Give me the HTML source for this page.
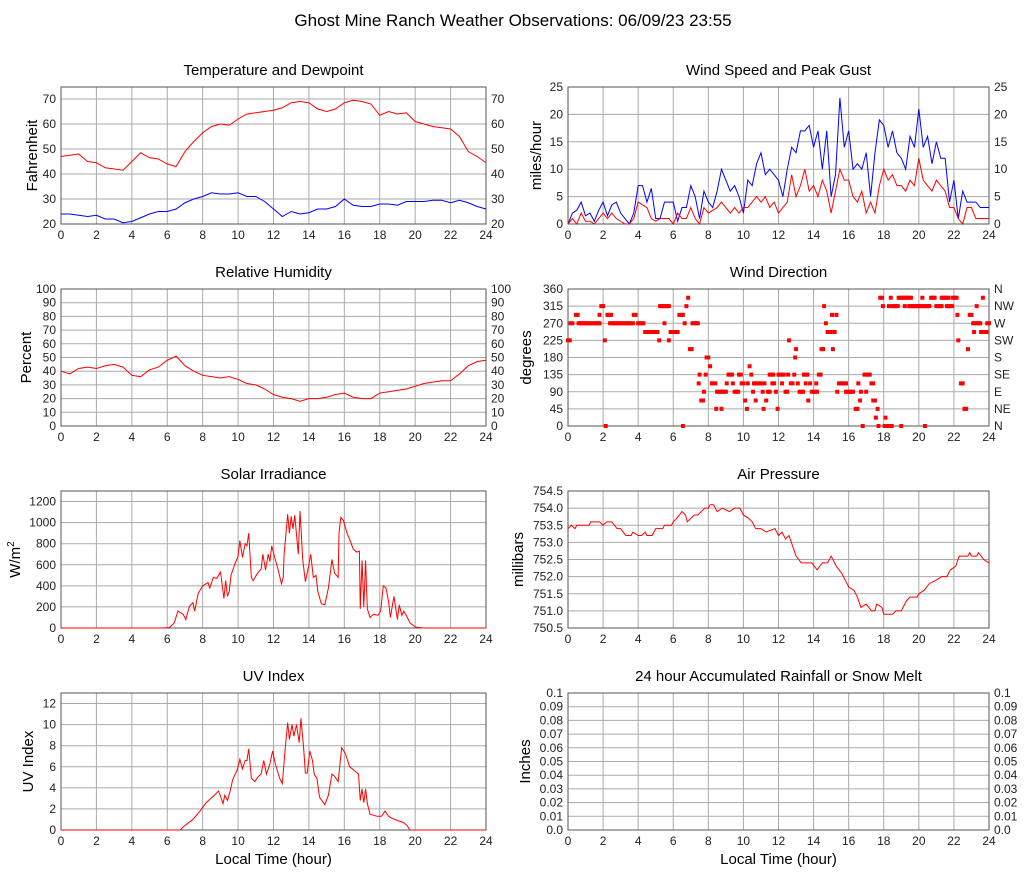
<!DOCTYPE html>
<html><head><meta charset="utf-8">
<style>
body{margin:0;background:#fff;}
svg{display:block;font-family:"Liberation Sans",Arial,sans-serif;}
</style></head>
<body>
<svg id="chart" width="1027" height="878" viewBox="0 0 1027 878" xmlns="http://www.w3.org/2000/svg">
<text x="513" y="26" font-size="17" text-anchor="middle" fill="#000">Ghost Mine Ranch Weather Observations: 06/09/23 23:55</text>
</svg>
<script>
// ---- data ----
const hourTicks = [0,2,4,6,8,10,12,14,16,18,20,22,24];
const halfHours = [0,0.5,1,1.5,2,2.5,3,3.5,4,4.5,5,5.5,6,6.5,7,7.5,8,8.5,9,9.5,10,10.5,11,11.5,12,12.5,13,13.5,14,14.5,15,15.5,16,16.5,17,17.5,18,18.5,19,19.5,20,20.5,21,21.5,22,22.5,23,23.5,24];
const quarterHours = [0,0.25,0.5,0.75,1,1.25,1.5,1.75,2,2.25,2.5,2.75,3,3.25,3.5,3.75,4,4.25,4.5,4.75,5,5.25,5.5,5.75,6,6.25,6.5,6.75,7,7.25,7.5,7.75,8,8.25,8.5,8.75,9,9.25,9.5,9.75,10,10.25,10.5,10.75,11,11.25,11.5,11.75,12,12.25,12.5,12.75,13,13.25,13.5,13.75,14,14.25,14.5,14.75,15,15.25,15.5,15.75,16,16.25,16.5,16.75,17,17.25,17.5,17.75,18,18.25,18.5,18.75,19,19.25,19.5,19.75,20,20.25,20.5,20.75,21,21.25,21.5,21.75,22,22.25,22.5,22.75,23,23.25,23.5,23.75,24];
const temperature = [47,47.5,48,45,44.5,42.5,42,41.5,45,48.5,46.5,46,44,43,49,53,56.5,59,60,59.5,62,64,64.5,65,65.5,66.5,68.5,69,68.5,66,65,66,68.5,69.5,69,68,63.5,65,64,64.5,61,60,59,58.5,58,55,49,47,44.5];
const dewpoint = [24,24,23.5,23,23.5,22,22,20.5,21,22.5,24,25,25,26,28.5,30,31,32.5,32,32,32.5,31,31,29,26,23,25,24,24.5,26,26,27,30,27.5,27,27,28,28,27.5,29,29,29,29.5,29.5,28.5,29.5,28.5,27,26];
const windGust = [0,2,2.5,4,1.5,2,0.5,2.5,4,1.5,3.5,4,2,1,0,2,7,7,4,6.5,1,1,4,4,4,0.5,3,3,7,5,1,6,4,3,6,10,8,6,7,5,2,8,7,11,13,9,10,9,8,5,10,14,13,17,17,18,14,17,10,17,5,9,23,14,17,10,11,10,13,5,13,19,18,14,17,13,12,10,16,14,21,14,16,11,15,12,12,4,8,1,6,4,4,4,3,3,3];
const windSpeed = [0,1,0,2,0.5,0.5,0,1,2,1,2,1,0.5,0,0,1,4,3.5,3,1,0.5,1,1,1,0,2,1,1,3,1,0,3,2,2.5,3,4,3,2,3,2,3,3,4,5,4,5,3,4,2,3,4,9,5,7,10,6,7,5,8,6,2,6,10,8,8,5,4,6,2,4,2,7,10,8,9,7,7,6,8,7,12,8,7,6,8,7,6,3,3,1,0,3,3,1,1,1,1];
const humidity = [40,38,42,43,42,44,45,43,37,36,41,43,48,51,44,40,37,36,35,36,34,31,30,27,23,21,20,18,20,20,21,23,24,21,20,20,24,25,26,27,29,31,32,33,33,38,44,47,48];
// wind direction observation runs: [startHour, endHour, degrees]
const windDirRuns = [[0,0.1,225],[0.15,0.3,270],[0.45,0.55,292],[0.6,1.8,270],[1.8,1.8,292],[1.9,2.0,315],[2.1,2.1,225],[2.15,2.15,0],[2.25,2.45,292],[2.4,3.7,270],[3.75,3.9,292],[4.0,4.35,270],[4.4,5.1,247],[5.2,5.2,225],[5.25,5.75,315],[5.5,5.5,270],[5.75,5.75,225],[5.85,6.3,247],[6.35,6.55,292],[6.55,6.55,0],[6.65,6.65,270],[6.75,6.75,315],[6.85,6.85,337],[6.95,7.05,202],[7.1,7.4,270],[7.45,7.45,112],[7.5,7.5,135],[7.6,7.75,67],[7.75,7.75,90],[7.85,7.85,135],[7.9,8.05,180],[8.1,8.1,157],[8.2,8.4,112],[8.45,8.45,45],[8.5,9.0,90],[8.75,8.75,45],[9.05,9.05,112],[9.15,9.35,135],[9.4,9.4,112],[9.5,9.7,90],[9.75,9.9,135],[9.9,10.05,112],[10.1,10.1,67],[10.2,10.2,45],[10.25,10.25,112],[10.35,10.35,157],[10.45,10.45,135],[10.55,10.55,90],[10.6,11.0,112],[10.7,10.7,67],[11.1,11.1,90],[11.15,11.15,45],[11.2,11.2,112],[11.3,11.3,67],[11.4,11.5,90],[11.5,11.75,135],[11.65,11.8,112],[11.85,11.85,90],[11.95,11.95,45],[12.0,12.3,135],[12.2,12.2,112],[12.4,12.5,90],[12.55,12.55,135],[12.6,12.6,225],[12.7,12.85,112],[12.9,12.9,135],[12.95,12.95,180],[13.0,13.0,202],[13.1,13.1,112],[13.2,13.4,90],[13.45,13.65,135],[13.55,13.55,112],[13.7,13.7,67],[13.8,13.8,112],[13.9,14.2,90],[14.15,14.15,112],[14.3,14.4,135],[14.45,14.6,202],[14.6,14.6,315],[14.7,14.7,270],[14.8,15.0,247],[15.05,15.05,292],[15.1,15.1,202],[15.2,15.2,247],[15.3,15.3,292],[15.35,15.35,90],[15.45,15.85,112],[15.85,16.3,90],[16.4,16.5,45],[16.55,16.55,112],[16.65,16.65,67],[16.7,16.7,90],[16.8,16.8,0],[16.9,17.2,135],[17.0,17.0,90],[17.3,17.4,112],[17.4,17.5,67],[17.55,17.55,22],[17.65,17.65,45],[17.7,17.7,0],[17.8,17.9,337],[17.95,17.95,315],[18.05,18.25,0],[18.1,18.1,22],[18.3,18.3,315],[18.4,18.4,337],[18.45,18.45,0],[18.5,18.8,315],[19.0,19.0,0],[18.85,19.6,337],[19.2,19.2,315],[19.45,20.15,315],[20.2,20.2,337],[20.35,20.35,0],[20.3,20.65,315],[20.7,20.95,337],[21.0,21.3,315],[21.3,21.7,337],[21.6,21.9,315],[21.95,22.15,337],[22.2,22.2,292],[22.25,22.25,225],[22.4,22.5,112],[22.6,22.75,45],[22.8,22.8,202],[22.9,23.0,292],[23.1,23.55,270],[23.15,23.15,247],[23.3,23.3,315],[23.55,23.85,247],[23.65,23.65,337],[23.9,24.0,270]];
const solarHours = [0,5.75,6.13,6.4,6.6,6.9,7.05,7.25,7.45,7.55,7.75,8.0,8.3,8.4,8.6,8.8,9.0,9.05,9.2,9.3,9.4,9.5,9.6,9.8,10.0,10.1,10.25,10.4,10.5,10.6,10.75,10.85,11.1,11.3,11.4,11.55,11.7,11.8,11.9,12.05,12.25,12.45,12.55,12.6,12.8,12.9,13.0,13.1,13.2,13.4,13.5,13.65,13.8,14.0,14.1,14.25,14.4,14.5,14.7,14.9,15.1,15.3,15.45,15.65,15.7,15.8,15.95,16.15,16.3,16.5,16.7,16.85,16.9,17.0,17.1,17.2,17.3,17.45,17.65,17.9,18.05,18.2,18.35,18.5,18.6,18.8,19.0,19.1,19.25,19.35,19.5,19.7,20.0,20.45,24];
const solarValues = [0,0,5,50,160,130,80,205,240,160,330,400,430,380,480,470,530,480,280,450,300,350,500,600,680,830,670,800,780,900,480,450,520,560,700,550,700,630,780,680,560,420,480,700,1080,900,1060,940,1070,700,1110,650,440,600,700,480,500,350,230,220,380,650,520,480,900,1050,1020,900,840,750,720,730,180,640,200,640,180,100,130,120,160,400,380,250,100,300,80,220,120,160,120,50,10,0,0];
const pressureHours = [0,0.2,0.4,0.5,1.2,1.3,1.8,2,2.2,2.5,2.8,3,3.3,3.6,3.7,4,4.2,4.4,4.5,4.8,5,5.4,5.5,5.9,6,6.2,6.5,6.7,6.8,7,7.2,7.4,7.6,7.8,8,8.1,8.3,8.5,8.8,9.2,9.5,9.8,10,10.3,10.5,10.7,11,11.3,11.8,12,12.2,12.4,12.6,12.8,13,13.3,13.9,14.2,14.5,14.8,15,15.3,15.6,15.8,16,16.3,16.5,16.7,17,17.3,17.5,17.6,17.9,18,18.5,18.7,19,19.3,19.5,19.9,20,20.3,20.6,21,21.3,21.6,21.8,22.1,22.3,22.8,22.9,23,23.3,23.4,23.7,24];
const pressureValues = [753.4,753.5,753.4,753.5,753.5,753.6,753.6,753.5,753.6,753.6,753.4,753.4,753.2,753.2,753.3,753.2,753.2,753.3,753.2,753.2,753.4,753.4,753.5,753.5,753.6,753.7,753.9,753.8,753.6,753.7,753.8,753.8,753.9,754.0,754.0,754.1,754.1,753.9,754.0,753.9,754.0,754.0,753.8,753.7,753.6,753.4,753.4,753.3,753.4,753.2,753.3,753.1,753.2,752.9,752.6,752.4,752.4,752.2,752.4,752.4,752.6,752.3,752.1,751.9,751.7,751.6,751.4,751.1,751.2,751.0,751.0,751.2,751.1,750.9,750.9,751.0,751.0,751.3,751.4,751.4,751.5,751.6,751.8,751.9,752.0,752.0,752.2,752.3,752.6,752.6,752.7,752.6,752.6,752.7,752.5,752.4];
const uvHours = [0,6.75,6.9,7.45,7.85,8.2,8.6,8.9,9.05,9.15,9.25,9.4,9.55,9.7,9.95,10.1,10.25,10.4,10.5,10.6,10.75,10.95,11.15,11.3,11.45,11.6,11.8,11.95,12.1,12.35,12.5,12.65,12.8,12.9,13.05,13.15,13.3,13.45,13.55,13.7,13.8,13.9,14.05,14.2,14.3,14.45,14.6,14.9,15.1,15.3,15.45,15.65,15.85,16.05,16.3,16.6,16.8,16.9,17.0,17.1,17.2,17.3,17.45,17.85,18.1,18.3,18.5,18.7,19.0,19.35,19.55,19.7,24];
const uvValues = [0,0,0.3,1.0,1.8,2.6,3.2,3.7,3.0,2.5,3.3,2.8,3.7,4.8,5.7,6.7,5.8,6.6,6.6,7.7,4.9,4.6,5.1,5.3,6.6,5.3,6.3,7.5,6.3,4.9,4.4,7.5,10.2,8.6,10.0,8.9,10.0,8.3,10.6,7.8,5.4,5.4,7.5,6.6,5.3,4.9,3.1,2.4,3.3,5.3,5.1,4.6,7.8,7.3,6.0,5.6,5.3,2.8,3.9,2.6,3.9,2.5,1.5,1.3,1.3,1.8,1.3,1.1,0.9,0.7,0.4,0,0];
const rainHours = [];
const rainValues = [];
const tempTicks = [20,30,40,50,60,70];
const windTicks = [0,5,10,15,20,25];
const humTicks = [0,10,20,30,40,50,60,70,80,90,100];
const dirTicks = [0,45,90,135,180,225,270,315,360];
const dirLabels = ["N","NE","E","SE","S","SW","W","NW","N"];
const solarTicks = [0,200,400,600,800,1000,1200];
const pressTicks = [750.5,751.0,751.5,752.0,752.5,753.0,753.5,754.0,754.5];
const uvTicks = [0,2,4,6,8,10,12];
const rainTicks = [0,0.01,0.02,0.03,0.04,0.05,0.06,0.07,0.08,0.09,0.1];
const rainTickLabels = ["0.0","0.01","0.02","0.03","0.04","0.05","0.06","0.07","0.08","0.09","0.1"];

// ---- drawing ----
const svg = document.getElementById('chart');
const NS = 'http://www.w3.org/2000/svg';
function mk(tag, attrs, parent){
  const e = document.createElementNS(NS, tag);
  for (const k in attrs) e.setAttribute(k, attrs[k]);
  (parent||svg).appendChild(e);
  return e;
}
function panel(cfg){
  const g = mk('g', {});
  
  
  const sx = h => cfg.x0 + (h - 0) / 24 * (cfg.x1 - cfg.x0);
  const sy = v => cfg.y1 - (v - cfg.min) / (cfg.max - cfg.min) * (cfg.y1 - cfg.y0);
  hourTicks.forEach(h => {
    const l = mk('line', {x1:sx(h), x2:sx(h), y1:cfg.y0, y2:cfg.y1, stroke:'#aaa', 'stroke-width':1}, g);
    
    
    const t = mk('text', {x:sx(h), y:cfg.y1 + 15, 'font-size':12, 'text-anchor':'middle', fill:'#222'}, g);
    t.textContent = h;
    
    
  });
  cfg.ticks.forEach((v, i) => {
    const l = mk('line', {x1:cfg.x0, x2:cfg.x1, y1:sy(v), y2:sy(v), stroke:'#aaa', 'stroke-width':1}, g);
    
    
    const lab = cfg.labels ? cfg.labels[i] : (cfg.fmt ? cfg.fmt(v) : String(v));
    const t = mk('text', {x:cfg.x0 - 5, y:sy(v) + 4, 'font-size':12, 'text-anchor':'end', fill:'#222'}, g);
    t.textContent = lab;
    
    
    if (cfg.right) {
      const rl = cfg.rightLabels ? cfg.rightLabels[i] : lab;
      const t2 = mk('text', {x:cfg.x1 + 5, y:sy(v) + 4, 'font-size':12, 'text-anchor':'start', fill:'#222'}, g);
      t2.textContent = rl;
      
      
    }
  });
  const b = mk('rect', {x:cfg.x0, y:cfg.y0, width:cfg.x1 - cfg.x0, height:cfg.y1 - cfg.y0, fill:'none', stroke:'#555', 'stroke-width':1}, g);
  
  
  const tt = mk('text', {x:(cfg.x0 + cfg.x1) / 2, y:cfg.y0 - 12, 'font-size':15, 'text-anchor':'middle', fill:'#000'}, g);
  tt.textContent = cfg.title;
  
  
  const cy = (cfg.y0 + cfg.y1) / 2;
  const yt = mk('text', {x:cfg.ytx, y:cy, 'font-size':15, 'text-anchor':'middle', fill:'#000', transform:'rotate(-90 ' + cfg.ytx + ' ' + cy + ')'}, g);
  if (cfg.ytitleHTML) { yt.innerHTML = cfg.ytitleHTML; } else { yt.textContent = cfg.ytitle; }
  
  
  if (cfg.xtitle) {
    const xt = mk('text', {x:(cfg.x0 + cfg.x1) / 2, y:cfg.y1 + 34, 'font-size':15, 'text-anchor':'middle', fill:'#000'}, g);
    xt.textContent = 'Local Time (hour)';
    
    
  }
  return {g, sx, sy};
}
function line(p, xs, ys, color, name){
  if (!xs.length) return;
  const d = xs.map((x, i) => (i ? 'L' : 'M') + p.sx(x).toFixed(2) + ' ' + p.sy(ys[i]).toFixed(2)).join(' ');
  const e = mk('path', {d:d, fill:'none', stroke:color, 'stroke-width':1}, p.g);
  
  
}
const L0 = 61, L1 = 486, R0 = 568, R1 = 989;
const rows = [[87,224],[289,426],[491,628],[693,830]];

const pT = panel({name:'temperature', title:'Temperature and Dewpoint', x0:L0, x1:L1, y0:rows[0][0], y1:rows[0][1], min:20, max:74.8, ticks:tempTicks, right:true, ytitle:'Fahrenheit', ytx:37});
line(pT, halfHours, temperature, '#f00', 'temperature-line');
line(pT, halfHours, dewpoint, '#00f', 'dewpoint-line');

const pW = panel({name:'wind-speed', title:'Wind Speed and Peak Gust', x0:R0, x1:R1, y0:rows[0][0], y1:rows[0][1], min:0, max:25, ticks:windTicks, right:true, ytitle:'miles/hour', ytx:541});
line(pW, quarterHours, windGust, '#00f', 'peak-gust-line');
line(pW, quarterHours, windSpeed, '#f00', 'wind-speed-line');

const pH = panel({name:'humidity', title:'Relative Humidity', x0:L0, x1:L1, y0:rows[1][0], y1:rows[1][1], min:0, max:100, ticks:humTicks, right:true, ytitle:'Percent', ytx:31});
line(pH, halfHours, humidity, '#f00', 'humidity-line');

const pD = panel({name:'wind-direction', title:'Wind Direction', x0:R0, x1:R1, y0:rows[1][0], y1:rows[1][1], min:0, max:360, ticks:dirTicks, right:true, rightLabels:dirLabels, ytitle:'degrees', ytx:531});
windDirRuns.forEach(r => {
  for (let h = r[0]; h <= r[1] + 1e-6; h += 0.1) {
    const m = mk('rect', {x:pD.sx(h) - 2, y:pD.sy(r[2]) - 2, width:4, height:4, fill:'#f00'}, pD.g);
    
    
  }
});

const pS = panel({name:'solar', title:'Solar Irradiance', x0:L0, x1:L1, y0:rows[2][0], y1:rows[2][1], min:0, max:1300, ticks:solarTicks, right:false, ytitleHTML:'W/m<tspan dy="-6" font-size="10">2</tspan>', ytx:20});
line(pS, solarHours, solarValues, '#f00', 'solar-line');

const pP = panel({name:'pressure', title:'Air Pressure', x0:R0, x1:R1, y0:rows[2][0], y1:rows[2][1], min:750.5, max:754.5, ticks:pressTicks, right:false, fmt:v => v.toFixed(1), ytitle:'millibars', ytx:523});
line(pP, pressureHours, pressureValues, '#f00', 'pressure-line');

const pU = panel({name:'uv', title:'UV Index', x0:L0, x1:L1, y0:rows[3][0], y1:rows[3][1], min:0, max:13, ticks:uvTicks, right:false, ytitle:'UV Index', ytx:33, xtitle:true});
line(pU, uvHours, uvValues, '#f00', 'uv-line');

const pR = panel({name:'rainfall', title:'24 hour Accumulated Rainfall or Snow Melt', x0:R0, x1:R1, y0:rows[3][0], y1:rows[3][1], min:0, max:0.1, ticks:rainTicks, labels:rainTickLabels, right:true, ytitle:'Inches', ytx:530, xtitle:true});
line(pR, rainHours, rainValues, '#f00', 'rainfall-line');
</script>
</body></html>
